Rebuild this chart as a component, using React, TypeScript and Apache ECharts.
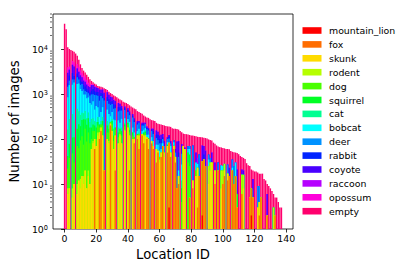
import React, { useEffect, useRef } from 'react';
import * as echarts from 'echarts';

const FONT = 'DejaVu Sans';

const categories = ['mountain_lion', 'fox', 'skunk', 'rodent', 'dog', 'squirrel', 'cat', 'bobcat', 'deer', 'rabbit', 'coyote', 'raccoon', 'opossum', 'empty'];
const colors = ['#ff0000', '#ff6d00', '#ffdb00', '#b6ff00', '#49ff00', '#00ff24', '#00ff92', '#00ffff', '#0092ff', '#0024ff', '#4900ff', '#b600ff', '#ff00db', '#ff006d'];

const xTicks = [0, 20, 40, 60, 80, 100, 120, 140];
const yTicks = [1, 10, 100, 1000, 10000];

// total number of images per location (top of each bar)
const totalImages = [
  36300, 27500, 10960, 10000, 9550, 9120, 8710, 7940, 7080, 5750,
  4570, 3800, 3310, 3020, 2690, 2400, 2140, 1950, 1820, 1700,
  1620, 1510, 1480, 1445, 1410, 1350, 1290, 1230, 1120, 1050,
  1000, 933, 891, 851, 794, 759, 724, 676, 646, 631,
  603, 562, 525, 501, 479, 457, 417, 398, 380, 363,
  331, 316, 302, 295, 275, 263, 257, 251, 229, 219,
  214, 209, 204, 200, 195, 191, 190, 186, 174, 170,
  169, 166, 162, 151, 141, 132, 129, 128, 126, 123,
  120, 119, 117, 115, 112, 111, 110, 109, 107, 105,
  102, 98, 95, 93, 83, 78, 72, 68, 66, 65,
  63, 62, 60, 60, 59, 54, 52, 51, 50, 49,
  46, 42, 40, 38, 36, 29, 26, 25, 21, 20,
  19, 19, 18, 17, 17, 17, 13, 12, 10, 9,
  8, 7, 6, 5, 5, 4, 3, 3,
];

// [location, count] for each animal class
const mountainLion: [number, number][] = [[66, 3], [87, 2], [118, 2]];
const fox: [number, number][] = [[19, 60], [22, 100], [23, 150], [25, 20], [29, 200], [32, 20], [41, 20], [44, 80], [46, 100], [47, 60], [49, 120], [50, 80], [52, 100], [53, 60], [55, 80], [56, 60], [58, 30], [59, 50], [61, 40], [62, 70], [65, 50], [66, 80], [67, 40], [69, 60], [70, 30], [71, 8], [72, 10], [79, 5], [81, 8], [84, 3], [85, 15], [87, 30], [88, 35], [89, 25], [95, 10], [97, 20], [100, 10], [101, 15], [103, 12], [104, 15], [106, 20], [107, 10], [108, 15], [109, 3], [112, 6], [117, 5], [118, 6], [119, 5], [123, 2], [124, 5], [128, 2], [133, 2]];
const skunk: [number, number][] = [[2, 6], [3, 8], [5, 5], [6, 10], [8, 6], [9, 12], [10, 8], [11, 15], [12, 10], [13, 20], [14, 8], [15, 15], [16, 10], [17, 60], [18, 80], [19, 40], [20, 70], [21, 120], [22, 40], [23, 30], [24, 120], [27, 100], [28, 80], [29, 20], [30, 150], [31, 60], [32, 100], [34, 80], [35, 120], [36, 80], [38, 150], [40, 180], [41, 100], [43, 100], [44, 20], [46, 20], [47, 60], [49, 10], [50, 40], [51, 120], [52, 10], [53, 40], [55, 10], [56, 10], [58, 30], [59, 5], [60, 30], [61, 10], [63, 40], [65, 20], [67, 10], [69, 10], [70, 10], [72, 5], [75, 70], [76, 60], [81, 4], [83, 15], [84, 20], [91, 10], [92, 20], [93, 30], [95, 10], [99, 8], [101, 5], [103, 5], [113, 8], [122, 3], [123, 2]];
const rodent: [number, number][] = [[2, 2], [5, 3], [8, 4], [10, 5], [12, 5], [15, 5], [18, 10], [21, 20], [28, 10], [35, 10], [38, 10], [60, 5], [63, 10], [91, 15], [92, 10], [99, 12], [100, 10], [101, 8], [112, 10], [113, 8], [132, 3]];
const dog: [number, number][] = [[2, 14], [3, 30], [5, 40], [6, 20], [8, 60], [9, 50], [10, 80], [11, 100], [12, 60], [13, 150], [14, 80], [15, 120], [16, 70], [17, 40], [18, 60], [19, 50], [20, 30], [21, 60], [22, 40], [23, 30], [24, 80], [27, 40], [28, 50], [29, 20], [30, 60], [31, 30], [32, 40], [34, 30], [35, 20], [36, 40], [38, 30], [40, 30], [41, 20], [43, 20], [44, 10], [47, 10], [50, 10], [51, 15], [53, 5], [60, 5], [74, 4], [78, 30], [79, 20], [83, 5]];
const squirrel: [number, number][] = [[2, 20], [3, 40], [5, 60], [6, 80], [8, 100], [9, 150], [10, 100], [11, 150], [12, 200], [13, 100], [14, 120], [15, 150], [16, 100], [17, 80], [18, 60], [19, 50], [20, 80], [21, 40], [22, 30], [24, 50], [27, 60], [28, 30], [30, 40], [31, 30], [32, 20], [34, 30], [35, 20], [36, 30], [38, 20], [40, 20], [41, 20], [43, 20], [46, 10], [50, 10], [51, 10], [65, 5], [74, 4], [78, 20], [79, 20], [109, 3]];
const cat: [number, number][] = [[2, 120], [3, 200], [5, 250], [6, 150], [8, 300], [9, 200], [10, 150], [11, 120], [12, 100], [13, 150], [14, 80], [15, 100], [16, 60], [17, 100], [18, 80], [19, 50], [20, 60], [21, 70], [23, 40], [24, 60], [27, 50], [28, 40], [30, 30], [31, 50], [34, 40], [36, 30], [38, 20], [41, 20], [47, 10], [51, 10], [69, 5], [74, 4]];
const bobcat: [number, number][] = [[2, 680], [3, 1300], [5, 1250], [6, 1550], [8, 1200], [9, 1300], [10, 950], [11, 780], [12, 600], [13, 550], [14, 520], [15, 450], [16, 390], [17, 300], [18, 400], [19, 200], [20, 300], [21, 200], [22, 100], [23, 150], [24, 200], [27, 200], [28, 150], [29, 80], [30, 120], [31, 100], [32, 80], [34, 80], [35, 60], [36, 100], [38, 60], [40, 50], [41, 60], [43, 40], [44, 30], [46, 20], [47, 30], [49, 20], [50, 20], [51, 20], [52, 15], [53, 20], [55, 20], [56, 20], [58, 15], [59, 20], [60, 15], [61, 10], [62, 10], [65, 10], [67, 20], [69, 10], [72, 5], [74, 15], [78, 10], [79, 15], [83, 10], [84, 5], [91, 10], [99, 6], [100, 5], [106, 3], [108, 15]];
const deer: [number, number][] = [[2, 600], [3, 400], [5, 500], [6, 300], [8, 700], [9, 400], [10, 300], [11, 500], [12, 300], [13, 200], [14, 300], [15, 200], [16, 300], [17, 400], [18, 300], [19, 500], [20, 400], [21, 400], [22, 400], [23, 500], [24, 300], [25, 700], [27, 250], [28, 250], [29, 250], [30, 200], [31, 200], [32, 220], [34, 150], [35, 200], [36, 150], [38, 150], [40, 120], [41, 100], [43, 120], [44, 100], [46, 60], [47, 60], [49, 50], [50, 40], [51, 40], [52, 40], [53, 30], [55, 40], [56, 40], [58, 30], [59, 20], [60, 25], [61, 20], [62, 20], [63, 20], [65, 15], [66, 20], [67, 10], [69, 10], [70, 10], [72, 20], [74, 20], [78, 10], [79, 10], [81, 60], [85, 30], [91, 10], [92, 8], [97, 10], [103, 10], [106, 12], [107, 15], [122, 6], [123, 5]];
const rabbit: [number, number][] = [[2, 300], [3, 600], [5, 800], [6, 400], [8, 500], [9, 300], [10, 400], [11, 200], [12, 300], [13, 300], [14, 200], [15, 150], [16, 150], [17, 200], [18, 300], [19, 200], [20, 150], [21, 200], [22, 200], [23, 150], [24, 200], [25, 100], [27, 150], [28, 150], [29, 100], [30, 100], [31, 120], [32, 100], [34, 100], [35, 80], [36, 50], [38, 40], [40, 40], [41, 30], [43, 30], [44, 20], [46, 20], [49, 15], [50, 10], [52, 10], [53, 10], [55, 10], [56, 20], [58, 20], [59, 30], [60, 20], [61, 20], [62, 10], [66, 10], [72, 10], [88, 10]];
const coyote: [number, number][] = [[2, 1200], [3, 900], [5, 1500], [6, 1600], [8, 800], [9, 700], [10, 600], [11, 500], [12, 400], [13, 400], [14, 300], [15, 300], [16, 350], [17, 400], [18, 300], [19, 300], [20, 300], [21, 250], [22, 350], [23, 200], [24, 250], [25, 250], [27, 250], [28, 200], [29, 200], [30, 150], [31, 150], [32, 120], [34, 120], [35, 100], [36, 60], [38, 50], [40, 40], [41, 40], [43, 30], [44, 30], [46, 20], [47, 20], [49, 15], [50, 20], [51, 15], [52, 15], [53, 10], [55, 10], [56, 20], [58, 30], [59, 20], [60, 20], [61, 25], [62, 20], [63, 20], [65, 10], [66, 10], [67, 10], [70, 10], [71, 80], [72, 40], [74, 30], [76, 5], [83, 20], [87, 40], [88, 25], [89, 30], [93, 20], [95, 10], [104, 8], [109, 15], [112, 5], [113, 4], [119, 8], [128, 4]];
const raccoon: [number, number][] = [[2, 100], [5, 200], [8, 100], [10, 80], [12, 100], [14, 60], [19, 30], [31, 20], [84, 10]];
const opossum: [number, number][] = [[2, 900], [3, 600], [5, 800], [6, 1000], [8, 900], [9, 900], [10, 700], [11, 600], [12, 500], [13, 500], [14, 400], [15, 300], [16, 200], [17, 100], [18, 50], [20, 60], [22, 40], [24, 30], [27, 40], [29, 30], [34, 20]];

const animalClasses = [mountainLion, fox, skunk, rodent, dog, squirrel, cat, bobcat, deer, rabbit, coyote, raccoon, opossum];

const X_MIN = -7.3;
const X_MAX = 144.3;
const Y_MIN = 1;
const Y_MAX = 60000;
const GRID = { left: 52, top: 14, width: 241, height: 215 };

function buildCumulative(): number[][] {
  const out: number[][] = [];
  let run: number[] = totalImages.map(() => 0);
  animalClasses.forEach((pairs) => {
    const next = run.slice();
    pairs.forEach(([i, v]) => { next[i] += v; });
    out.push(next);
    run = next;
  });
  out.push(totalImages.slice()); // "empty" reaches the total
  return out;
}

export default function App() {
  const ref = useRef<HTMLDivElement>(null);

  useEffect(() => {
    if (!ref.current) return;
    const chart = echarts.init(ref.current, undefined, { renderer: 'svg' });
    const cum = buildCumulative();
    const barW = (GRID.width / (X_MAX - X_MIN)) * 0.9;

    const series: any[] = [];
    for (let k = categories.length - 1; k >= 0; k--) {
      series.push({
        name: categories[k],
        type: 'bar',
        barWidth: barW,
        barGap: '-100%',
        itemStyle: { color: colors[k] },
        emphasis: { disabled: true },
        data: cum[k].map((v, i) => [i, v >= 1 ? v : '-']),
      });
    }

    chart.setOption({
      animation: false,
      textStyle: { fontFamily: FONT },
      grid: { ...GRID, show: true, borderColor: '#000', borderWidth: 0.8, backgroundColor: 'transparent' },
      legend: {
        orient: 'vertical',
        left: 302.5,
        top: 25,
        padding: 0,
        itemWidth: 19,
        itemHeight: 6.6,
        itemGap: 2.9,
        icon: 'rect',
        selectedMode: false,
        data: categories,
        textStyle: { fontFamily: FONT, fontSize: 9.4, lineHeight: 11, color: '#000', padding: [0, 0, 0, 2.5] },
      },
      xAxis: {
        type: 'value',
        min: X_MIN,
        max: X_MAX,
        name: 'Location ID',
        nameLocation: 'middle',
        nameGap: 18,
        nameTextStyle: { fontFamily: FONT, fontSize: 13.2, color: '#000' },
        axisLine: { show: false },
        splitLine: { show: false },
        axisTick: { show: true, length: 3.5, lineStyle: { color: '#000', width: 0.8 }, customValues: xTicks },
        axisLabel: { customValues: xTicks, fontFamily: FONT, fontSize: 9.4, color: '#000', margin: 5 },
      },
      yAxis: {
        type: 'log',
        logBase: 10,
        min: Y_MIN,
        max: Y_MAX,
        name: 'Number of images',
        nameLocation: 'middle',
        nameGap: 26,
        nameTextStyle: { fontFamily: FONT, fontSize: 13.2, color: '#000' },
        axisLine: { show: false },
        splitLine: { show: false },
        axisTick: { show: true, length: 3.5, lineStyle: { color: '#000', width: 0.8 }, customValues: yTicks },
        axisLabel: {
          customValues: yTicks,
          margin: 5,
          formatter: (v: number) => `{b|10}{sup|${Math.round(Math.log10(v))}}`,
          rich: {
            b: { fontFamily: FONT, fontSize: 9.4, color: '#000', lineHeight: 10, verticalAlign: 'bottom', padding: [3, 0, 0, 0] },
            sup: { fontFamily: FONT, fontSize: 6.6, color: '#000', lineHeight: 8, verticalAlign: 'top' },
          },
        },
      },
      series,
    });

    const minor: any[] = [];
    for (let d = 0; d < 5; d++) {
      for (let m = 2; m < 10; m++) {
        const v = m * Math.pow(10, d);
        if (v > Y_MAX) break;
        const y = chart.convertToPixel({ yAxisIndex: 0 }, v) as number;
        minor.push({
          type: 'line',
          silent: true,
          shape: { x1: GRID.left - 2, y1: y, x2: GRID.left, y2: y },
          style: { stroke: '#000', lineWidth: 0.6 },
        });
      }
    }
    chart.setOption({ graphic: minor });

    return () => chart.dispose();
  }, []);

  return <div ref={ref} style={{ position: 'fixed', left: 0, top: 0, width: 409, height: 273, background: '#fff' }} />;
}
